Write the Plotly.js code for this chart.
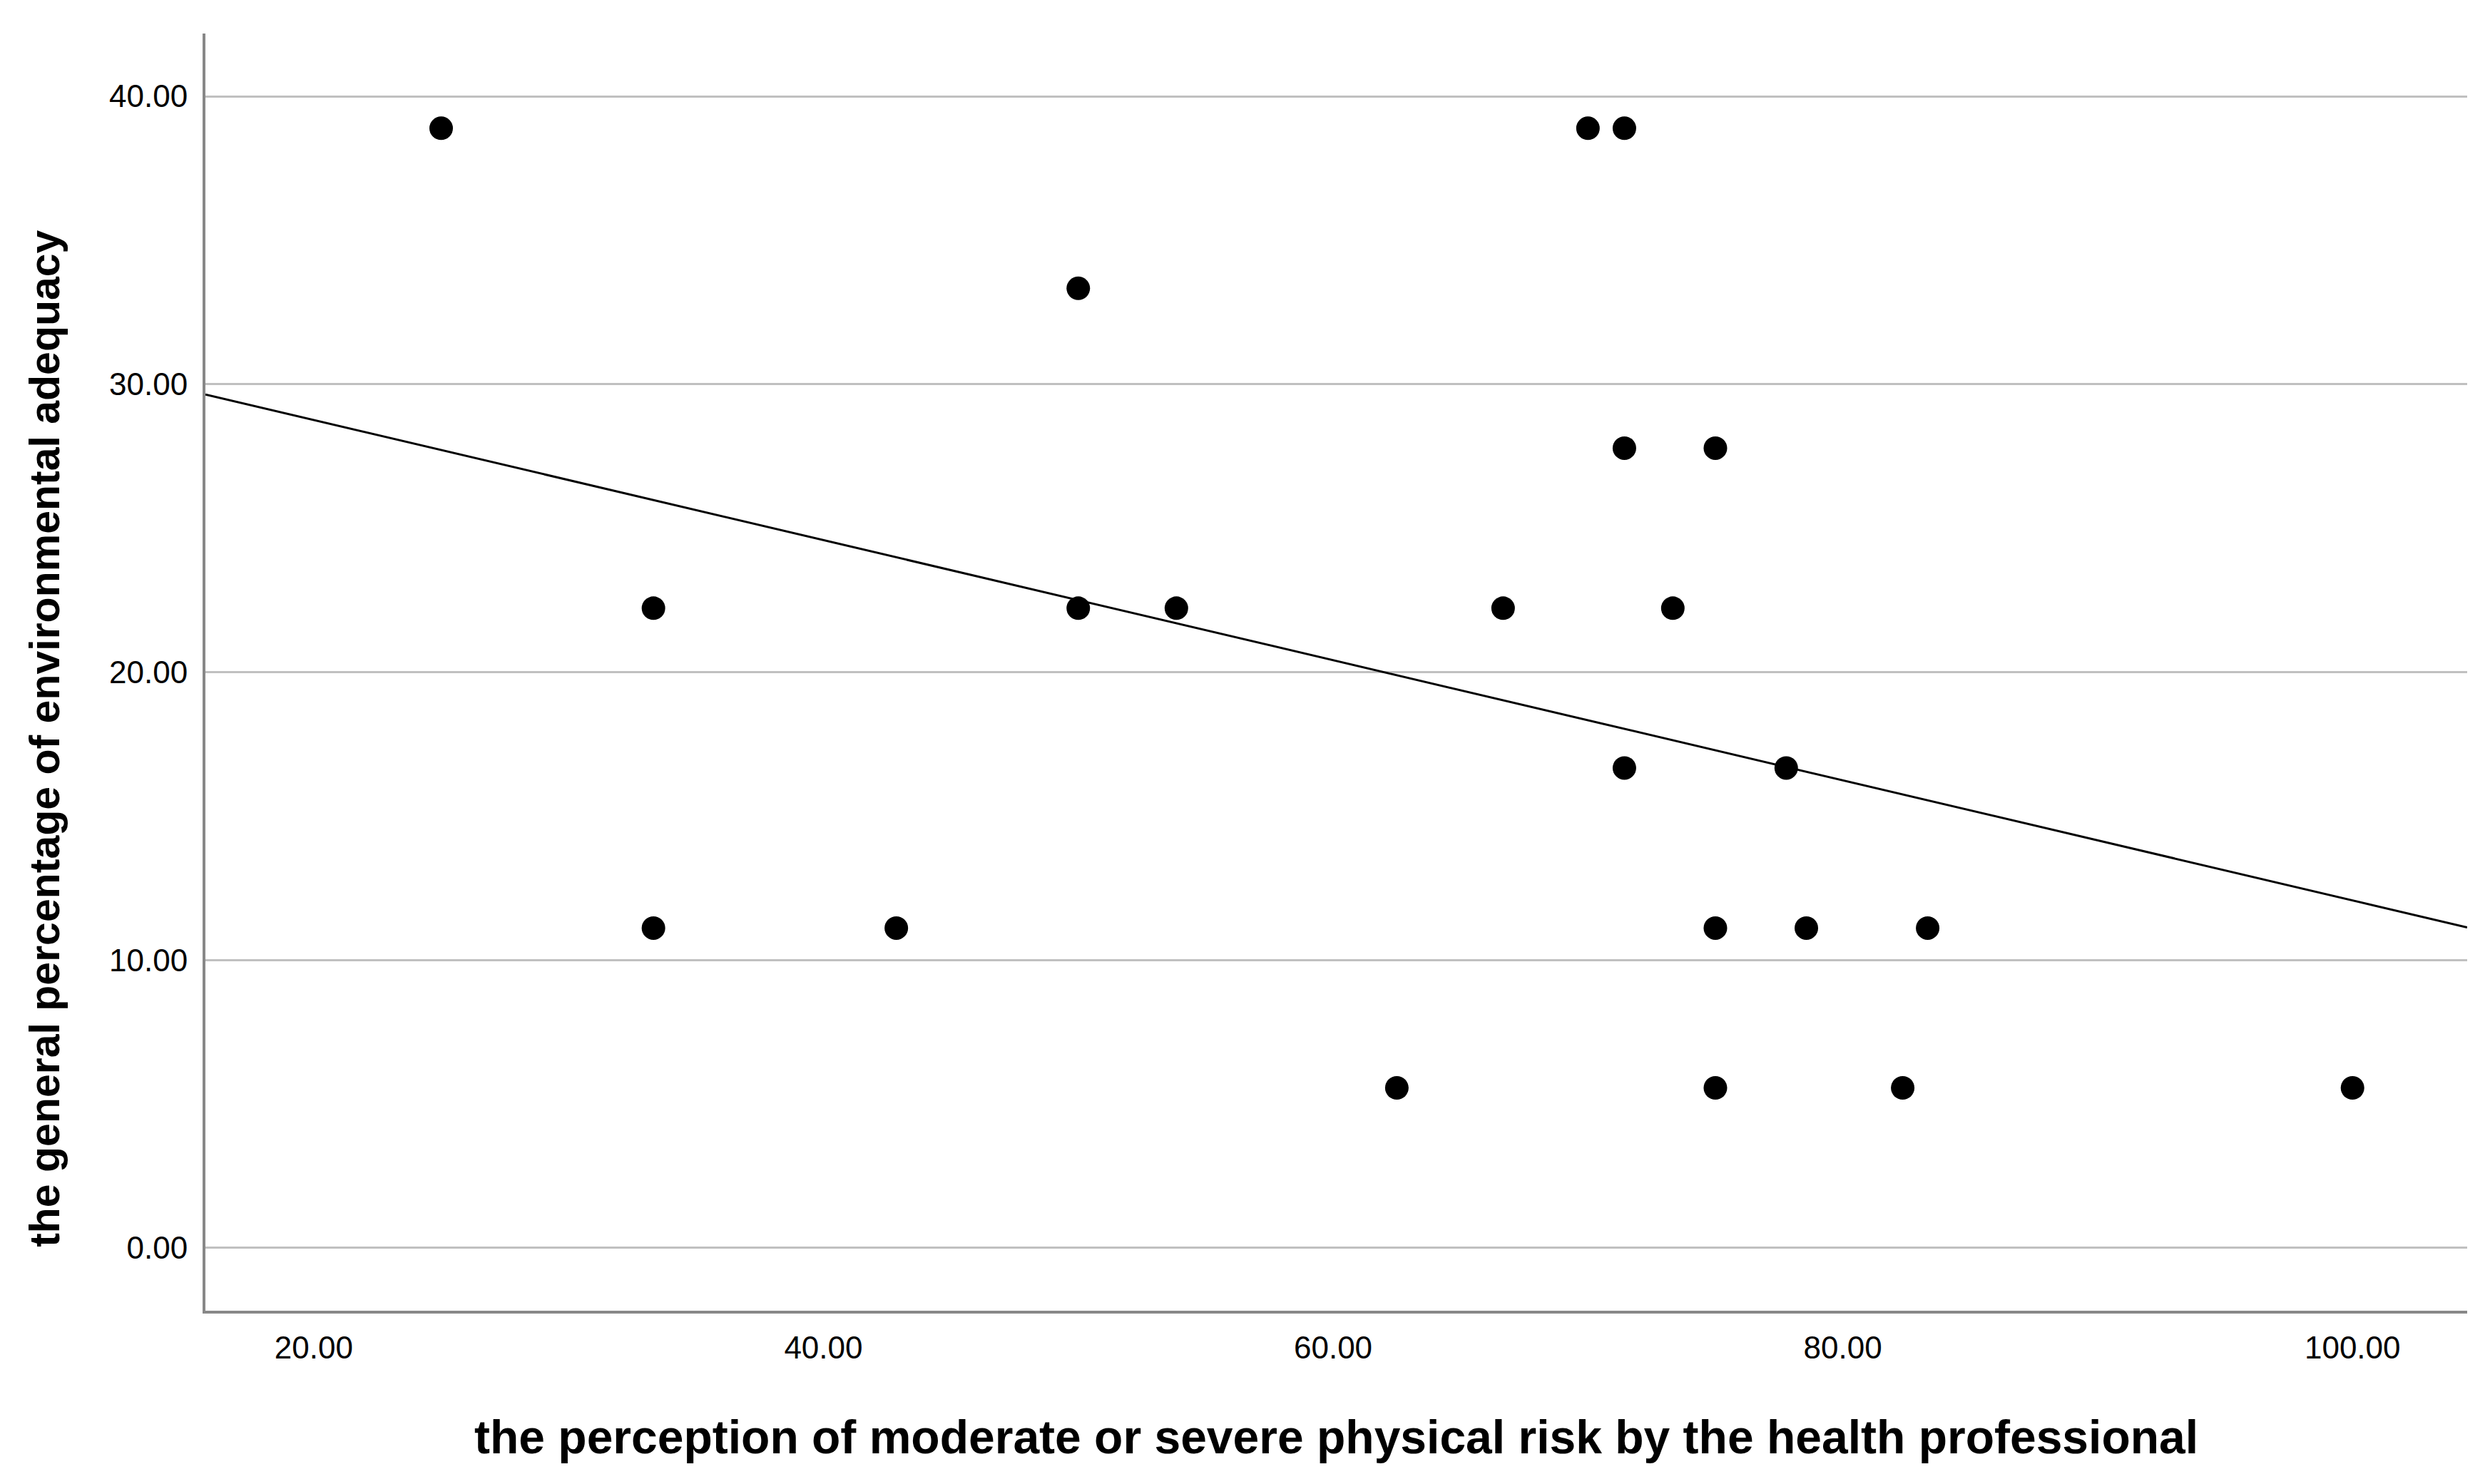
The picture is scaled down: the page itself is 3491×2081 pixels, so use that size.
<!DOCTYPE html>
<html>
<head>
<meta charset="utf-8">
<script src="https://cdn.plot.ly/plotly-3.0.1.min.js"></script>
<style>html,body{margin:0;padding:0;background:#fff;}#chart{width:3491px;height:2081px;}</style>
</head>
<body>
<div id="chart"></div>
<script>
// Data
const riskPerception = [25.00, 33.33, 33.33, 42.86, 50.00, 50.00, 53.85, 62.50, 66.67, 70.00, 71.43,
                        71.43, 71.43, 73.33, 75.00, 75.00, 75.00, 77.78, 78.57, 82.35, 83.33, 100.00];
const envAdequacy   = [38.89, 22.22, 11.11, 11.11, 33.33, 22.22, 22.22, 5.56, 22.22, 38.89, 38.89,
                        27.78, 16.67, 22.22, 27.78, 11.11, 5.56, 16.67, 11.11, 5.56, 11.11, 5.56];
const xTicks = [20, 40, 60, 80, 100];
const xTickLabels = ["20.00", "40.00", "60.00", "80.00", "100.00"];
const yTicks = [0, 10, 20, 30, 40];
const yTickLabels = ["0.00", "10.00", "20.00", "30.00", "40.00"];
const xTitle = "the perception of moderate or severe physical risk by the health professional";
const yTitle = "the general percentage of environmental adequacy";

const xRange = [15.75, 104.5];
const yRange = [-2.18, 42.18];

// Ordinary least squares fit line
const n = riskPerception.length;
const mx = riskPerception.reduce((a, b) => a + b, 0) / n;
const my = envAdequacy.reduce((a, b) => a + b, 0) / n;
let sxy = 0, sxx = 0;
for (let i = 0; i < n; i++) {
  sxy += (riskPerception[i] - mx) * (envAdequacy[i] - my);
  sxx += (riskPerception[i] - mx) ** 2;
}
const slope = sxy / sxx;
const intercept = my - slope * mx;
const fitX = [xRange[0], xRange[1]];
const fitY = fitX.map(v => intercept + slope * v);

const traces = [
  {
    x: fitX, y: fitY, type: 'scatter', mode: 'lines',
    line: {color: '#000000', width: 3}, hoverinfo: 'skip', cliponaxis: true
  },
  {
    x: riskPerception, y: envAdequacy, type: 'scatter', mode: 'markers',
    marker: {color: '#000000', size: 33, line: {width: 0}}
  }
];

const tickFont = {family: '"Liberation Sans", Arial, sans-serif', size: 44, color: '#000000'};

const layout = {
  width: 3491, height: 2081,
  margin: {l: 288, r: 32, t: 47, b: 243, pad: 0},
  paper_bgcolor: '#ffffff', plot_bgcolor: '#ffffff',
  showlegend: false,
  xaxis: {
    range: xRange, tickvals: xTicks, ticktext: xTickLabels,
    showgrid: false, zeroline: false,
    showline: true, linecolor: '#888888', linewidth: 4,
    ticks: '', tickfont: tickFont, ticklabelstandoff: 10
  },
  yaxis: {
    range: yRange, tickvals: yTicks, ticktext: yTickLabels,
    showgrid: true, gridcolor: '#c0c0c0', gridwidth: 3, zeroline: false,
    showline: true, linecolor: '#888888', linewidth: 4,
    ticks: '', tickfont: tickFont, ticklabelstandoff: 12
  },
  annotations: [
    {
      text: xTitle, xref: 'paper', yref: 'paper', x: 0.5, y: -0.099,
      xanchor: 'center', yanchor: 'middle', showarrow: false,
      font: {family: '"Liberation Sans", Arial, sans-serif', size: 66, color: '#000000', weight: 'bold'}
    },
    {
      text: yTitle, xref: 'paper', yref: 'paper', x: -0.071, y: 0.4478,
      xanchor: 'center', yanchor: 'middle', showarrow: false, textangle: -90,
      font: {family: '"Liberation Sans", Arial, sans-serif', size: 59, color: '#000000', weight: 'bold'}
    }
  ]
};

Plotly.newPlot('chart', traces, layout, {displayModeBar: false, staticPlot: true});
</script>
</body>
</html>
